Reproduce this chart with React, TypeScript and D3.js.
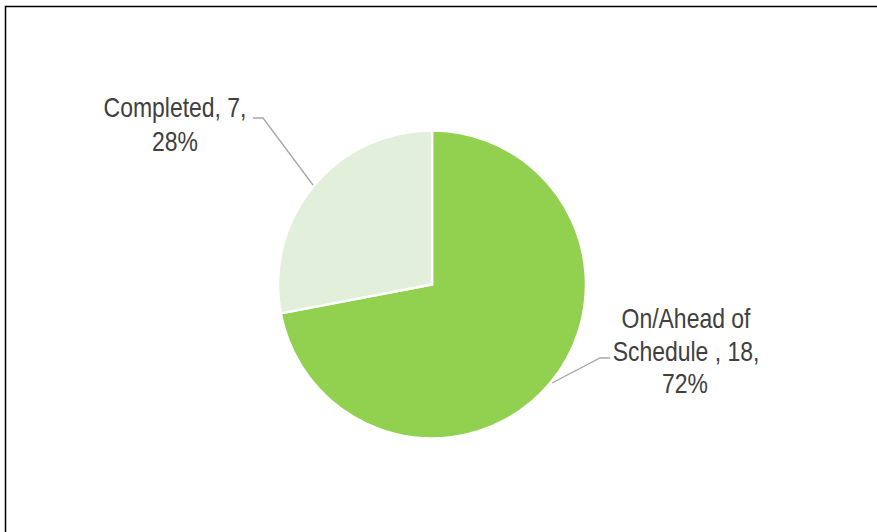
import React from "react";
import * as d3 from "d3";

const categories = ["On/Ahead of Schedule ", "Completed"];
const values = [18, 7];
const percents = ["72%", "28%"];
const colors = ["#92d050", "#e2efda"];

const W = 877, H = 532;
const cx = 432, cy = 284.5, R = 154;

function Label({ x, y, text }: { x: number; y: number; text: string }) {
  return (
    <g transform={`translate(${x},${y}) scale(0.82,1)`}>
      <text x={0} y={0}>{text}</text>
    </g>
  );
}

export default function App() {
  const pie = d3.pie<number>().sort(null).value((d) => d)(values);
  const arc = d3.arc<d3.PieArcDatum<number>>().innerRadius(0).outerRadius(R);
  const font = "'Liberation Sans', Arial, sans-serif";
  const textColor = "#404040";
  return (
    <svg width={W} height={H} style={{ position: "absolute", left: 0, top: 0 }}>
      <rect x={0} y={0} width={W} height={H} fill="#fff" />
      <path d={`M5.5,${H + 5} L5.5,6.5 L${W + 5},6.5`} fill="none" stroke="#000" strokeWidth={1.5} />
      <g transform={`translate(${cx},${cy})`}>
        {pie.map((p, i) => (
          <path key={i} d={arc(p) || ""} fill={colors[i]} stroke="#fff" strokeWidth={2.5} />
        ))}
      </g>
      <polyline points="313,185 263,118 253,118" fill="none" stroke="#a6a6a6" strokeWidth={1.3} />
      <polyline points="552,383 600,358 610,358" fill="none" stroke="#a6a6a6" strokeWidth={1.3} />
      <g fontFamily={font} fontSize={28} fill={textColor} textAnchor="middle">
        <Label x={175} y={117} text={`${categories[1]}, ${values[1]},`} />
        <Label x={175} y={151} text={percents[1]} />
        <Label x={686} y={328} text="On/Ahead of" />
        <Label x={686} y={361} text={`Schedule , ${values[0]},`} />
        <Label x={685} y={393} text={percents[0]} />
      </g>
    </svg>
  );
}
